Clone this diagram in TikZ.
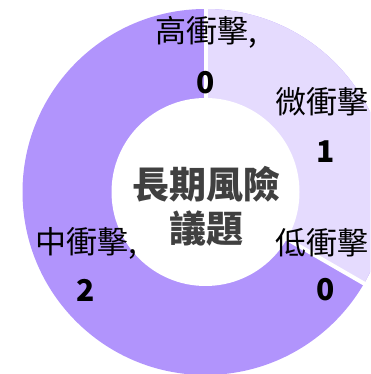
\documentclass[tikz,border=0pt]{standalone}
\usepackage{fontspec}
\setmainfont{Noto Sans CJK TC}
\definecolor{pdark}{RGB}{177,148,252}
\definecolor{plight}{RGB}{229,219,254}
\definecolor{ctext}{RGB}{64,64,64}
\begin{document}
\begin{tikzpicture}[x=1pt,y=1pt,
  lab/.style={font=\fontsize{31}{31}\selectfont, inner sep=0, text=black},
  num/.style={font=\fontsize{30}{30}\selectfont\bfseries, inner sep=0, text=black},
  ctr/.style={font=\fontsize{37}{37}\selectfont\bfseries, inner sep=0, text=ctext},
  sep/.style={white, line width=4pt}]
\useasboundingbox (0,0) rectangle (370,374);
\clip (0,0) rectangle (370,374);
\coordinate (c) at (205.5,182);
% ring
\fill[pdark] (c) circle (183);
\fill[plight] (c) -- ++(90:183) arc (90:-30:183) -- cycle;
\draw[sep] (c) -- ++(90:184);
\draw[sep] (c) -- ++(-30:184);
\fill[white] (c) circle (94);
% labels
\node[lab] (hl) at (206,341.5) {高衝擊,};
\node[num] (hv) at (206,291.5) {0};
\node[lab] (wl) at (321.5,272.5) {微衝擊};
\node[num] (wv) at (326,222) {1};
\node[lab] (dl) at (321.5,131.5) {低衝擊};
\node[num] (dv) at (326,84) {0};
\node[lab] (ml) at (86.5,131) {中衝擊,};
\node[num] (mv) at (85.5,84) {2};
% centre title
\node[ctr] (t1) at (206,190) {長期風險};
\node[ctr] (t2) at (206,145.7) {議題};
\end{tikzpicture}
\end{document}
